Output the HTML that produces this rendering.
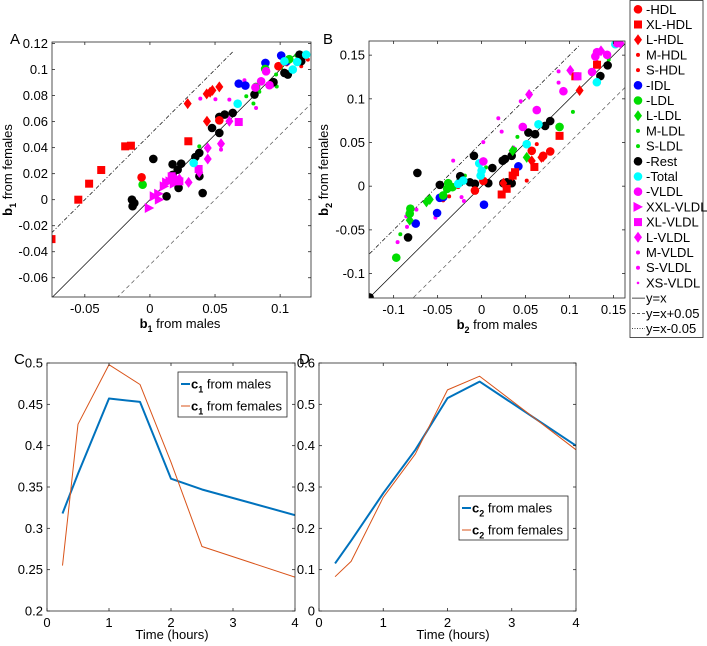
<!DOCTYPE html>
<html><head><meta charset="utf-8"><style>
body{margin:0;background:#fff;}
svg{display:block;font-family:"Liberation Sans",sans-serif;}
</style></head><body>
<svg id="fig" width="707" height="646" viewBox="0 0 707 646"></svg>
<script>
// ---------- data ----------
const tickA_x=[-0.05,0,0.05,0.1];
const tickA_y=[-0.06,-0.04,-0.02,0,0.02,0.04,0.06,0.08,0.1,0.12];
const tickB_x=[-0.1,-0.05,0,0.05,0.1,0.15];
const tickB_y=[-0.1,-0.05,0,0.05,0.1,0.15];
const tickC_x=[0,1,2,3,4];
const tickC_y=[0.2,0.25,0.3,0.35,0.4,0.45,0.5];
const tickD_y=[0,0.1,0.2,0.3,0.4,0.5,0.6];

// Panel A groups
const A_HDL_x=[-0.0064,0.0533,0.0987], A_HDL_y=[0.0172,0.061,0.1026];
const A_XLHDL_x=[-0.0756,-0.055,-0.0467,-0.0374,-0.019,-0.0146,0.0295], A_XLHDL_y=[-0.0303,0,0.0123,0.0228,0.041,0.0415,0.0449];
const A_LHDL_x=[0.029,0.0436,0.0462,0.048,0.0533,0.0438], A_LHDL_y=[0.0738,0.0813,0.0826,0.084,0.0867,0.0603];
const A_SHDL_x=[0.1162,0.1213,0.1187,0.105], A_SHDL_y=[0.1026,0.1077,0.109,0.104];
const A_IDL_x=[0.0682,0.0733,0.0887,0.1008,0.1051], A_IDL_y=[0.0892,0.0877,0.1051,0.1108,0.1064];
const A_LDL_x=[-0.0056,0.0885,0.0815,0.107], A_LDL_y=[0.0115,0.1005,0.0867,0.108];
const A_SLDL_x=[0.0969,0.1008,0.1123,0.0905,0.0379,0.0795,0.074,0.0974,0.084], A_SLDL_y=[0.0962,0.1013,0.1108,0.0887,0.041,0.0739,0.0795,0.087,0.083];
const A_Rest_x=[0.0026,0.0174,0.024,0.0174,0.0213,0.022,0.0128,-0.0138,-0.0133,-0.012,0.0349,0.0379,0.0477,0.0533,0.0533,0.0574,0.0636,0.038,0.0405,0.0803,0.0949,0.1033,0.1059,0.1149,0.1162], A_Rest_y=[0.0313,0.0272,0.0277,0.019,0.023,0.009,0.0026,0,-0.005,-0.0026,0.0328,0.0359,0.0551,0.0513,0.0636,0.0654,0.0667,0.018,0.0051,0.0808,0.0903,0.0974,0.0962,0.1115,0.1064];
const A_Total_x=[0.0336,0.0674,0.1033,0.1097,0.12,0.1131], A_Total_y=[0.0282,0.0738,0.1064,0.1,0.1115,0.1059];
const A_VLDL_x=[0.0892,0.0854,0.0810,0.0918], A_VLDL_y=[0.0987,0.0910,0.0862,0.0880];
const A_XXL_x=[-0.0005,0.0033,0.0067,0.0128,0.0154,0.0187,0.0110,0.0072], A_XXL_y=[-0.0064,0.0026,0.0046,0.0133,0.0141,0.0123,0.0103,0];
const A_LVLDL_x=[0.0297,0.0379,0.0444,0.0444,0.0546,0.0610,0.0226,0.0200], A_LVLDL_y=[0.0133,0.0210,0.0313,0.0397,0.043,0.0603,0.0159,0.0154];
const A_XLVLDL_x=[0.0167,0.0226,0.0682,0.0374], A_XLVLDL_y=[0.018,0.0141,0.0597,0.0236];
const A_MVLDL_x=[0.0726,0.0503,0.0387,0.0610,0.0815,0.0944,0.0546,0.0892], A_MVLDL_y=[0.0918,0.0772,0.0777,0.0769,0.0705,0.0877,0.0385,0.0974];

// Panel B groups
const B_HDL_x=[0.057,0.078,0.070,0.002,-0.0076], B_HDL_y=[0.0405,0.0398,0.0348,0.006,-0.005];
const B_XLHDL_x=[0.0228,0.0285,0.038,0.06,0.0886,0.1065,0.1312,0.0353], B_XLHDL_y=[-0.0095,-0.003,0.016,0.022,0.0576,0.1258,0.1390,0.0121];
const B_LHDL_x=[0.0247,0.0353,0.057,0.070,0.068,0.1114], B_LHDL_y=[0.0034,0.0121,0.029,0.0337,0.033,0.1095];
const B_SHDL_x=[0.0627,0.0513,-0.0369,-0.0437,-0.0266,0.1312], B_SHDL_y=[0.0481,0.0064,-0.0117,-0.0163,-0.0011,0.1420];
const B_IDL_x=[-0.0506,-0.0749,-0.0437,-0.0475,0.0418,0.0027], B_IDL_y=[-0.0307,-0.0428,-0.0125,-0.0133,0.0227,-0.0212];
const B_LDL_x=[-0.081,-0.097,0.0886,-0.038,-0.0437,-0.0331,-0.0392,-0.0817], B_LDL_y=[-0.0258,-0.0818,0.0678,0.0034,-0.0106,-0.0011,-0.003,-0.0314];
const B_LLDL_x=[-0.0627,-0.0589,-0.0817,0.0513,0.0353], B_LLDL_y=[-0.018,-0.0152,-0.039,0.033,0.0405];
const B_SLDL_x=[-0.0924,0.1038,0.0407,0.038,-0.019,0.1445,0.005], B_SLDL_y=[-0.055,0.085,0.0564,0.0424,0.0121,0.1447,0.0216];
const B_Rest_x=[-0.1274,-0.0836,-0.0475,-0.0730,-0.0243,-0.0087,-0.0133,-0.0247,-0.0076,0.0076,0.0122,0.0240,0.0266,0.0342,0.0247,0.0342,0.0285,0.0532,0.0608,0.0722,0.078,0.1350,0.1433], B_Rest_y=[-0.1273,-0.0587,0.0015,0.0152,0.0114,0.0348,0.0045,0.0045,0.0027,0.0034,0.0208,0.0292,0.0311,0.0348,0.0034,0.0034,0.0045,0.0614,0.0595,0.0690,0.0746,0.1261,0.1383];
const B_Total_x=[-0.0266,-0.0209,-0.0027,-0.0011,0,0.0513,0.0646,0.131,0.152], B_Total_y=[0.0027,0.0064,0.0261,0.0121,0.0178,0.0481,0.0708,0.119,0.1625];
const B_VLDL_x=[0.002,0.0468,0.0627,0.093,0.1255,0.1293,0.1312,0.1426,0.1540,0.1559], B_VLDL_y=[0.0284,0.0678,0.0871,0.1087,0.1307,0.1485,0.1534,0.1504,0.1636,0.1648];
const B_LVLDL_x=[0.054,0.1008,0.1357,0.1578], B_LVLDL_y=[0.1049,0.1326,0.1549,0.1636];
const B_XLVLDL_x=[0.109], B_XLVLDL_y=[0.1258];
const B_MVLDL_x=[0.019,0.0228,0.0019,-0.0323,0.0361,0.0875,0.0875,0.0445,-0.0856,-0.0955,-0.0741,-0.0525,-0.0228,-0.0201,-0.0848], B_MVLDL_y=[0.0777,0.0625,0.0504,0.0292,0.0443,0.1314,0.1185,0.0973,-0.0345,-0.0640,-0.0269,-0.0360,-0.0125,-0.0170,-0.0466];

// Panels C,D
const time=[0.25,0.5,1,1.5,2,2.5,4];
const c1_males=[0.318,0.366,0.457,0.453,0.36,0.347,0.316];
const c1_females=[0.255,0.426,0.498,0.474,0.38,0.278,0.241];
const c2_males=[0.115,0.17,0.285,0.39,0.515,0.555,0.4];
const c2_females=[0.083,0.12,0.275,0.38,0.535,0.568,0.39];

// ---------- drawing ----------
const svg=document.getElementById('fig');
const NS='http://www.w3.org/2000/svg';
function mk(tag,attrs,parent){const e=document.createElementNS(NS,tag);for(const k in attrs)e.setAttribute(k,attrs[k]);(parent||svg).appendChild(e);return e;}
function txt(s,x,y,attrs,parent){const e=mk('text',Object.assign({x:x,y:y,'font-size':13,fill:'#000'},attrs||{}),parent);e.textContent=s;return e;}

function makeAxis(name,x0,y0,x1,y1,xmin,xmax,ymin,ymax){
  const g=mk('g',{});
  
  
  const ax={g,x0,y0,x1,y1,
    sx:v=>x0+(v-xmin)/(xmax-xmin)*(x1-x0),
    sy:v=>y1-(v-ymin)/(ymax-ymin)*(y1-y0)};
  const cp=mk('clipPath',{id:'clip-'+name},g);
  mk('rect',{x:x0,y:y0,width:x1-x0,height:y1-y0},cp);
  ax.plot=mk('g',{'clip-path':'url(#clip-'+name+')'},g);
  return ax;
}
function frame(ax,xt,yt){
  const g=ax.g;
  mk('rect',{x:ax.x0,y:ax.y0,width:ax.x1-ax.x0,height:ax.y1-ax.y0,fill:'none',stroke:'#262626','stroke-width':0.8},g);
  xt.forEach(v=>{const x=ax.sx(v);
    mk('line',{x1:x,x2:x,y1:ax.y1,y2:ax.y1-3,stroke:'#262626','stroke-width':0.8},g);
    mk('line',{x1:x,x2:x,y1:ax.y0,y2:ax.y0+3,stroke:'#262626','stroke-width':0.8},g);
    const t=txt(String(v),x,ax.y1+16,{'text-anchor':'middle'},g);
    
    });
  yt.forEach(v=>{const y=ax.sy(v);
    mk('line',{x1:ax.x0,x2:ax.x0+3,y1:y,y2:y,stroke:'#262626','stroke-width':0.8},g);
    mk('line',{x1:ax.x1,x2:ax.x1-3,y1:y,y2:y,stroke:'#262626','stroke-width':0.8},g);
    const t=txt(String(v),ax.x0-4,y+4.5,{'text-anchor':'end'},g);
    
    });
}
const RED='#ff0000',BLUE='#0000ff',GREEN='#00dd00',BLACK='#000',CYAN='#00ffff',MAG='#ff00ff';
function marker(parent,type,x,y,color){
  let e;
  if(type==='o') e=mk('circle',{cx:x,cy:y,r:4.3,fill:color},parent);
  else if(type==='s') e=mk('rect',{x:x-4,y:y-4,width:8,height:8,fill:color},parent);
  else if(type==='d') e=mk('polygon',{points:`${x},${y-5.5} ${x+4},${y} ${x},${y+5.5} ${x-4},${y}`,fill:color},parent);
  else if(type==='>') e=mk('polygon',{points:`${x-4.5},${y-5} ${x+5},${y} ${x-4.5},${y+5}`,fill:color},parent);
  else if(type==='.') e=mk('circle',{cx:x,cy:y,r:2,fill:color},parent);
  else e=mk('circle',{cx:x,cy:y,r:1.3,fill:color},parent);
  return e;
}
function scatter(ax,xs,ys,type,color,name){
  xs.forEach((v,i)=>{const e=marker(ax.plot,type,ax.sx(v),ax.sy(ys[i]),color);
    
    });
}
function refLines(ax,lo,hi,upHi,dnLo){
  const g=ax.plot;
  const l1=mk('line',{x1:ax.sx(lo),y1:ax.sy(lo),x2:ax.sx(hi),y2:ax.sy(hi),stroke:'#000','stroke-width':0.7},g);
  
  
  const l2=mk('line',{x1:ax.sx(lo),y1:ax.sy(lo+0.05),x2:ax.sx(upHi),y2:ax.sy(upHi+0.05),stroke:'#000','stroke-width':0.7,'stroke-dasharray':'4 2 1 2'},g);
  
  
  const l3=mk('line',{x1:ax.sx(dnLo),y1:ax.sy(dnLo-0.05),x2:ax.sx(0.2),y2:ax.sy(0.15),stroke:'#555','stroke-width':0.7,'stroke-dasharray':'4 3'},g);
  
  
}

// Panel A
const A=makeAxis('panel-a',52,42,311,297,-0.0752,0.1237,-0.0748,0.1212);
refLines(A,-0.0756,0.1142,0.0642,-0.0256);
scatter(A,A_MVLDL_x,A_MVLDL_y,'.',MAG,'m-vldl-point');
scatter(A,A_SLDL_x,A_SLDL_y,'.',GREEN,'s-ldl-point');
scatter(A,A_SHDL_x,A_SHDL_y,'.',RED,'s-hdl-point');
scatter(A,A_Rest_x,A_Rest_y,'o',BLACK,'rest-point');
scatter(A,A_IDL_x,A_IDL_y,'o',BLUE,'idl-point');
scatter(A,A_LDL_x,A_LDL_y,'o',GREEN,'ldl-point');
scatter(A,A_VLDL_x,A_VLDL_y,'o',MAG,'vldl-point');
scatter(A,A_XXL_x,A_XXL_y,'>',MAG,'xxl-vldl-point');
scatter(A,A_LVLDL_x,A_LVLDL_y,'d',MAG,'l-vldl-point');
scatter(A,A_XLVLDL_x,A_XLVLDL_y,'s',MAG,'xl-vldl-point');
scatter(A,A_HDL_x,A_HDL_y,'o',RED,'hdl-point');
scatter(A,A_XLHDL_x,A_XLHDL_y,'s',RED,'xl-hdl-point');
scatter(A,A_LHDL_x,A_LHDL_y,'d',RED,'l-hdl-point');
scatter(A,A_Total_x,A_Total_y,'o',CYAN,'total-point');
frame(A,tickA_x,tickA_y);

// Panel B
const B=makeAxis('panel-b',369,41,625,298,-0.128,0.163,-0.128,0.1662);
refLines(B,-0.1274,0.1634,0.1114,-0.0774);
scatter(B,B_MVLDL_x,B_MVLDL_y,'.',MAG,'m-vldl-point');
scatter(B,B_SLDL_x,B_SLDL_y,'.',GREEN,'s-ldl-point');
scatter(B,B_SHDL_x,B_SHDL_y,'.',RED,'s-hdl-point');
scatter(B,B_Rest_x,B_Rest_y,'o',BLACK,'rest-point');
scatter(B,B_IDL_x,B_IDL_y,'o',BLUE,'idl-point');
scatter(B,B_LDL_x,B_LDL_y,'o',GREEN,'ldl-point');
scatter(B,B_LLDL_x,B_LLDL_y,'d',GREEN,'l-ldl-point');
scatter(B,B_HDL_x,B_HDL_y,'o',RED,'hdl-point');
scatter(B,B_XLHDL_x,B_XLHDL_y,'s',RED,'xl-hdl-point');
scatter(B,B_LHDL_x,B_LHDL_y,'d',RED,'l-hdl-point');
scatter(B,B_Total_x,B_Total_y,'o',CYAN,'total-point');
scatter(B,B_VLDL_x,B_VLDL_y,'o',MAG,'vldl-point');
scatter(B,B_LVLDL_x,B_LVLDL_y,'d',MAG,'l-vldl-point');
scatter(B,B_XLVLDL_x,B_XLVLDL_y,'s',MAG,'xl-vldl-point');
frame(B,tickB_x,tickB_y);

// Panel C, D
function series(ax,xs,ys,color,w,name){
  const pts=xs.map((v,i)=>ax.sx(v)+','+ax.sy(ys[i])).join(' ');
  const e=mk('polyline',{points:pts,fill:'none',stroke:color,'stroke-width':w,'stroke-linejoin':'round'},ax.plot);
  
  
}
const C=makeAxis('panel-c',47,363,295,611,0,4,0.2,0.5);
series(C,time,c1_males,'#0072BD',2,'c1-males-line');
series(C,time,c1_females,'#D95319',1,'c1-females-line');
frame(C,tickC_x,tickC_y);
const D=makeAxis('panel-d',319,363,576,611,0,4,0,0.6);
series(D,time,c2_males,'#0072BD',2,'c2-males-line');
series(D,time,c2_females,'#D95319',1,'c2-females-line');
frame(D,tickC_x,tickD_y);

function chartLegend(name,x,y,w,h,sub){
  const g=mk('g',{});
  
  
  mk('rect',{x:x,y:y,width:w,height:h,fill:'#fff',stroke:'#262626','stroke-width':0.8},g);
  [['#0072BD',2,'from males'],['#D95319',1,'from females']].forEach((r,i)=>{
    const yy=y+12+i*22;
    mk('line',{x1:x+3,x2:x+12,y1:yy,y2:yy,stroke:r[0],'stroke-width':r[1]},g);
    const t=mk('text',{x:x+13,y:yy+4.5,'font-size':13},g);
    t.innerHTML='<tspan font-weight="bold">c</tspan><tspan font-weight="bold" font-size="9" dy="4">'+sub+'</tspan><tspan dy="-4"> '+r[2]+'</tspan>';
  });
}
chartLegend('legend-c',178,372,109,45,'1');
chartLegend('legend-d',459,496,109,44,'2');

function lbl(html,x,y,rot,name){
  const t=mk('text',{x:x,y:y,'font-size':13,'text-anchor':'middle',transform:rot?`rotate(-90 ${x} ${y})`:''});
  t.innerHTML=html;
  
  
}
lbl('<tspan font-weight="bold">b</tspan><tspan font-weight="bold" font-size="9" dy="4">1</tspan><tspan dy="-4"> from males</tspan>',180,328,false,'x-axis-title-a');
lbl('<tspan font-weight="bold">b</tspan><tspan font-weight="bold" font-size="9" dy="4">2</tspan><tspan dy="-4"> from males</tspan>',497,329,false,'x-axis-title-b');
lbl('<tspan font-weight="bold">b</tspan><tspan font-weight="bold" font-size="9" dy="4">1</tspan><tspan dy="-4"> from females</tspan>',12,170,true,'y-axis-title-a');
lbl('<tspan font-weight="bold">b</tspan><tspan font-weight="bold" font-size="9" dy="4">2</tspan><tspan dy="-4"> from females</tspan>',328,170,true,'y-axis-title-b');
lbl('Time (hours)',172,639,false,'x-axis-title-c');
lbl('Time (hours)',453,639,false,'x-axis-title-d');
[['A',10,44],['B',323,44],['C',14,364],['D',299,364]].forEach(p=>{
  const t=txt(p[0],p[1],p[2],{'font-size':15});
  
  
});

const LG=mk('g',{});


mk('rect',{x:630,y:0.5,width:73,height:337,fill:'#fff',stroke:'#262626','stroke-width':0.8},LG);
const legLabels=['-HDL','XL-HDL','L-HDL','M-HDL','S-HDL','-IDL','-LDL','L-LDL','M-LDL','S-LDL','-Rest','-Total','-VLDL','XXL-VLDL','XL-VLDL','L-VLDL','M-VLDL','S-VLDL','XS-VLDL'];
const legTypes=['o','s','d','.','.','o','o','d','.','.','o','o','o','>','s','d','.','.','t'];
const legColors=[RED,RED,RED,RED,RED,BLUE,GREEN,GREEN,GREEN,GREEN,BLACK,CYAN,MAG,MAG,MAG,MAG,MAG,MAG,MAG];
legLabels.forEach((s,i)=>{
  const y=9.3+i*15.2;
  const m=marker(LG,legTypes[i],638,y,legColors[i]);
  
  
  const t=txt(s,646,y+4.5,{},LG);
  
  
});
[['y=x',''],['y=x+0.05','3 2'],['y=x-0.05','1 1.5']].forEach((r,i)=>{
  const y=9.3+(19+i)*15.2;
  mk('line',{x1:632,x2:645,y1:y,y2:y,stroke:'#000','stroke-width':0.7,'stroke-dasharray':r[1]},LG);
  const t=txt(r[0],646,y+4.5,{},LG);
  
  
});
</script>
</body></html>
